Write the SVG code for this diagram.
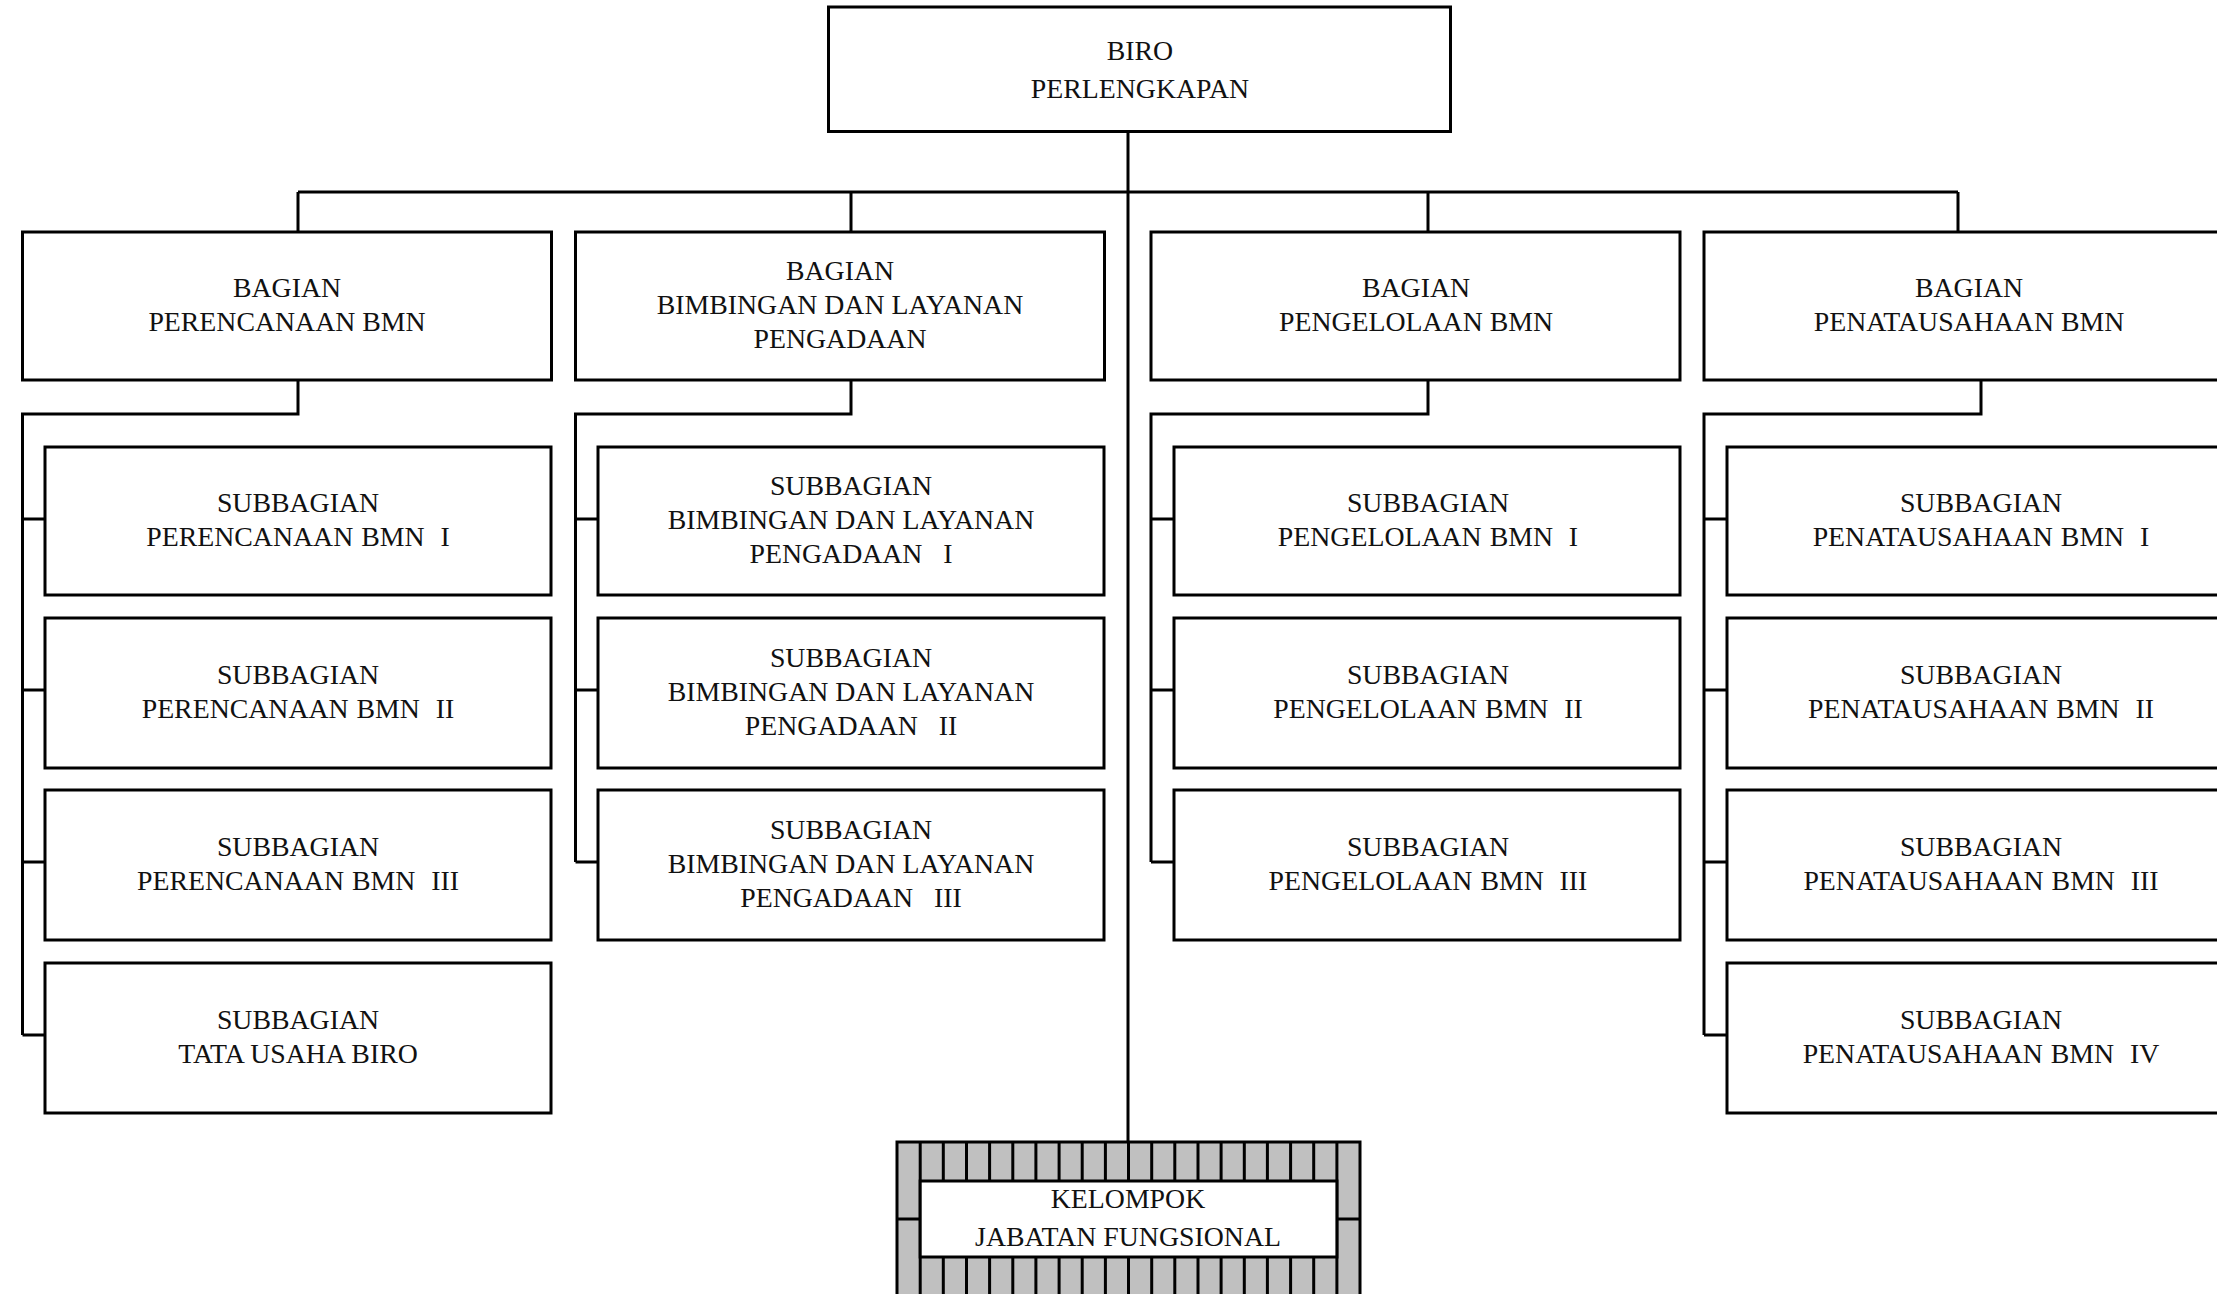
<svg xmlns="http://www.w3.org/2000/svg" width="2217" height="1294" viewBox="0 0 2217 1294">
<style>
.box{fill:#fff;stroke:#000;stroke-width:3}
.ln{fill:none;stroke:#000;stroke-width:3}
.t{font-family:"Liberation Serif","Times New Roman",serif;font-size:27.8px;text-anchor:middle;fill:#111;white-space:pre}
.w{word-spacing:1px}
.tile{stroke:#000;stroke-width:3}
</style>
<rect width="2217" height="1294" fill="#fff"/>
<g id="connectors">
<path class="ln" d="M1128 131V1142"/>
<path class="ln" d="M298 192H1958M298 192V232M851 192V232M1428 192V232M1958 192V232"/>
<path class="ln" d="M298 380V414H22.5V1035M22.5 519H45M22.5 690H45M22.5 862H45M22.5 1035H45"/>
<path class="ln" d="M851 380V414H575.5V862M575.5 519H598M575.5 690H598M575.5 862H598"/>
<path class="ln" d="M1428 380V414H1151V862M1151 519H1174M1151 690H1174M1151 862H1174"/>
<path class="ln" d="M1981 380V414H1704V1035M1704 519H1727M1704 690H1727M1704 862H1727M1704 1035H1727"/>
</g>
<g id="biro"><rect class="box" x="828.5" y="7" width="622" height="124.5"/>
<text class="t" x="1140" y="60">BIRO</text><text class="t" x="1140" y="98">PERLENGKAPAN</text></g>

<g id="bagian-perencanaan"><rect class="box" x="22.5" y="232" width="529" height="148"/>
<text class="t" x="287" y="297">BAGIAN</text><text class="t" x="287" y="331">PERENCANAAN BMN</text></g>
<g id="bagian-bimbingan"><rect class="box" x="575.5" y="232" width="529" height="148"/>
<text class="t" x="840" y="280">BAGIAN</text><text class="t" x="840" y="314">BIMBINGAN DAN LAYANAN</text><text class="t" x="840" y="348">PENGADAAN</text></g>
<g id="bagian-pengelolaan"><rect class="box" x="1151" y="232" width="529" height="148"/>
<text class="t" x="1416" y="297">BAGIAN</text><text class="t" x="1416" y="331">PENGELOLAAN BMN</text></g>
<g id="bagian-penatausahaan"><rect class="box" x="1704" y="232" width="529" height="148"/>
<text class="t" x="1969" y="297">BAGIAN</text><text class="t" x="1969" y="331">PENATAUSAHAAN BMN</text></g>

<g id="sub-per-1"><rect class="box" x="45" y="447" width="506" height="148"/>
<text class="t" x="298" y="512">SUBBAGIAN</text><text class="t w" x="298" y="546">PERENCANAAN BMN  I</text></g>
<g id="sub-per-2"><rect class="box" x="45" y="618" width="506" height="150"/>
<text class="t" x="298" y="684">SUBBAGIAN</text><text class="t w" x="298" y="718">PERENCANAAN BMN  II</text></g>
<g id="sub-per-3"><rect class="box" x="45" y="790" width="506" height="150"/>
<text class="t" x="298" y="856">SUBBAGIAN</text><text class="t w" x="298" y="890">PERENCANAAN BMN  III</text></g>
<g id="sub-tu"><rect class="box" x="45" y="963" width="506" height="150"/>
<text class="t" x="298" y="1029">SUBBAGIAN</text><text class="t" x="298" y="1063">TATA USAHA BIRO</text></g>

<g id="sub-bim-1"><rect class="box" x="598" y="447" width="506" height="148"/>
<text class="t" x="851" y="495">SUBBAGIAN</text><text class="t" x="851" y="529">BIMBINGAN DAN LAYANAN</text><text class="t" x="851" y="563">PENGADAAN   I</text></g>
<g id="sub-bim-2"><rect class="box" x="598" y="618" width="506" height="150"/>
<text class="t" x="851" y="667">SUBBAGIAN</text><text class="t" x="851" y="701">BIMBINGAN DAN LAYANAN</text><text class="t" x="851" y="735">PENGADAAN   II</text></g>
<g id="sub-bim-3"><rect class="box" x="598" y="790" width="506" height="150"/>
<text class="t" x="851" y="839">SUBBAGIAN</text><text class="t" x="851" y="873">BIMBINGAN DAN LAYANAN</text><text class="t" x="851" y="907">PENGADAAN   III</text></g>

<g id="sub-pen-1"><rect class="box" x="1174" y="447" width="506" height="148"/>
<text class="t" x="1428" y="512">SUBBAGIAN</text><text class="t w" x="1428" y="546">PENGELOLAAN BMN  I</text></g>
<g id="sub-pen-2"><rect class="box" x="1174" y="618" width="506" height="150"/>
<text class="t" x="1428" y="684">SUBBAGIAN</text><text class="t w" x="1428" y="718">PENGELOLAAN BMN  II</text></g>
<g id="sub-pen-3"><rect class="box" x="1174" y="790" width="506" height="150"/>
<text class="t" x="1428" y="856">SUBBAGIAN</text><text class="t w" x="1428" y="890">PENGELOLAAN BMN  III</text></g>

<g id="sub-pnt-1"><rect class="box" x="1727" y="447" width="506" height="148"/>
<text class="t" x="1981" y="512">SUBBAGIAN</text><text class="t w" x="1981" y="546">PENATAUSAHAAN BMN  I</text></g>
<g id="sub-pnt-2"><rect class="box" x="1727" y="618" width="506" height="150"/>
<text class="t" x="1981" y="684">SUBBAGIAN</text><text class="t w" x="1981" y="718">PENATAUSAHAAN BMN  II</text></g>
<g id="sub-pnt-3"><rect class="box" x="1727" y="790" width="506" height="150"/>
<text class="t" x="1981" y="856">SUBBAGIAN</text><text class="t w" x="1981" y="890">PENATAUSAHAAN BMN  III</text></g>
<g id="sub-pnt-4"><rect class="box" x="1727" y="963" width="506" height="150"/>
<text class="t" x="1981" y="1029">SUBBAGIAN</text><text class="t w" x="1981" y="1063">PENATAUSAHAAN BMN  IV</text></g>

<g id="kelompok">
<rect x="897" y="1142" width="463" height="154" fill="#c0c0c0" stroke="#000" stroke-width="3"/>
<path class="tile" d="M920.2 1142V1296M943.3 1142V1181M966.5 1142V1181M989.6 1142V1181M1012.8 1142V1181M1035.9 1142V1181M1059.1 1142V1181M1082.2 1142V1181M1105.4 1142V1181M1128.5 1142V1181M1151.7 1142V1181M1174.8 1142V1181M1198 1142V1181M1221.1 1142V1181M1244.3 1142V1181M1267.4 1142V1181M1290.6 1142V1181M1313.7 1142V1181M1336.9 1142V1296M943.3 1257V1296M966.5 1257V1296M989.6 1257V1296M1012.8 1257V1296M1035.9 1257V1296M1059.1 1257V1296M1082.2 1257V1296M1105.4 1257V1296M1128.5 1257V1296M1151.7 1257V1296M1174.8 1257V1296M1198 1257V1296M1221.1 1257V1296M1244.3 1257V1296M1267.4 1257V1296M1290.6 1257V1296M1313.7 1257V1296M897 1219H920M1337 1219H1360"/>
<rect x="920.2" y="1181" width="416.7" height="76" fill="#fff" stroke="#000" stroke-width="3"/>
<text class="t" x="1128" y="1208">KELOMPOK</text><text class="t" x="1128" y="1246">JABATAN FUNGSIONAL</text>
</g>
</svg>
